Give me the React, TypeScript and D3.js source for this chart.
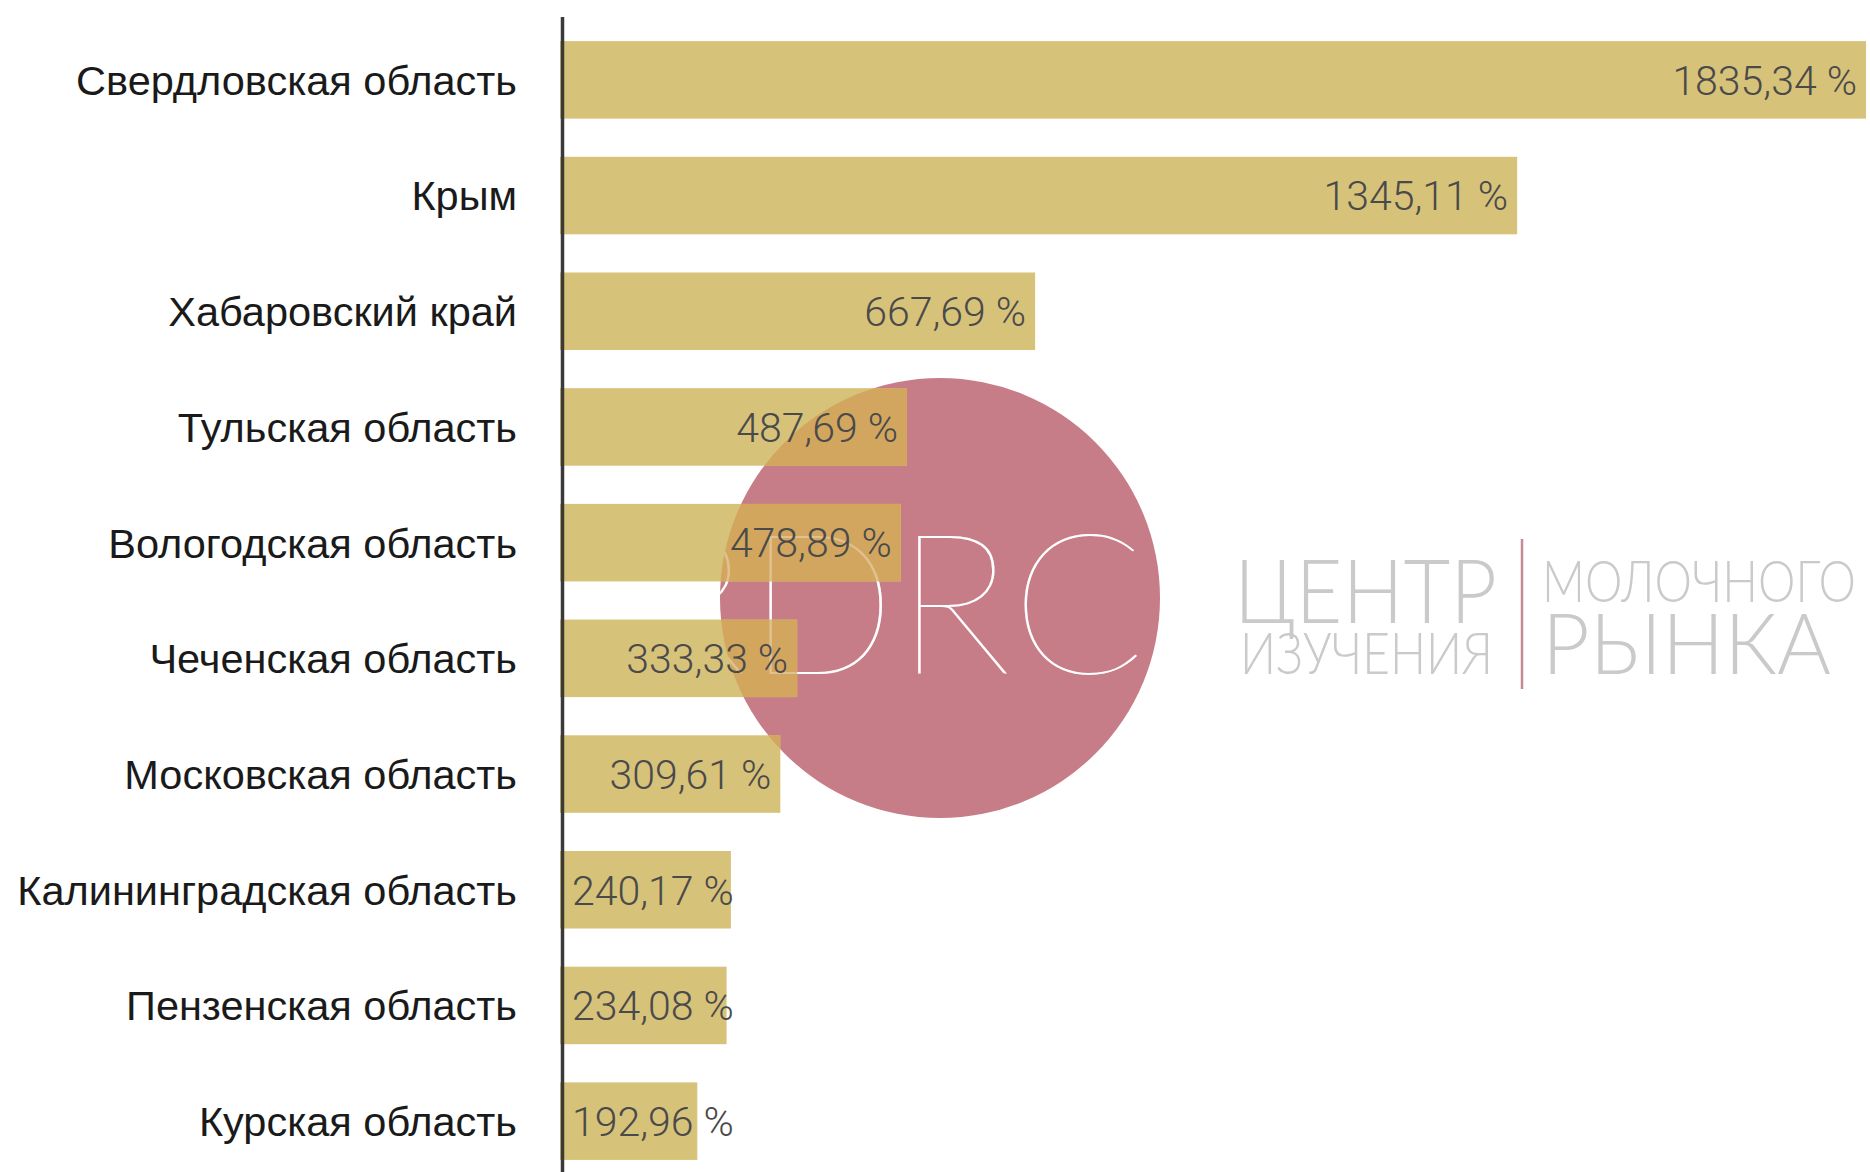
import React, { useEffect, useRef } from "react";
import * as d3 from "d3";

const categories = [
  "Свердловская область",
  "Крым",
  "Хабаровский край",
  "Тульская область",
  "Вологодская область",
  "Чеченская область",
  "Московская область",
  "Калининградская область",
  "Пензенская область",
  "Курская область",
];
const values = [1835.34, 1345.11, 667.69, 487.69, 478.89, 333.33, 309.61, 240.17, 234.08, 192.96];
const valueLabels = ["1835,34 %", "1345,11 %", "667,69 %", "487,69 %", "478,89 %", "333,33 %", "309,61 %", "240,17 %", "234,08 %", "192,96 %"];
const logoTitle = ["ЦЕНТР", "ИЗУЧЕНИЯ", "МОЛОЧНОГО", "РЫНКА"];
const logoMark = "RDRC";

const W = 1870;
const H = 1172;

export default function App() {
  const ref = useRef<SVGSVGElement>(null);

  useEffect(() => {
    const svg = d3.select(ref.current);
    svg.selectAll("*").remove();

    const y = d3.scaleBand<string>().domain(categories).range([22, 1179]).paddingInner(0.33).paddingOuter(0.165);
    const x = d3.scaleLinear().domain([0, 1835.34]).range([560, 1866]);

    const data = categories.map((c, i) => ({ c, v: values[i], l: valueLabels[i] }));

    const defs = svg.append("defs");
    const cx = 940, cy = 598, r = 220;
    defs.append("clipPath").attr("id", "circClip").append("circle").attr("cx", cx).attr("cy", cy).attr("r", r);

    svg.append("rect").attr("width", W).attr("height", H).attr("fill", "#ffffff");

    // logo circle
    svg.append("circle").attr("cx", cx).attr("cy", cy).attr("r", r).attr("fill", "#c77d87");

    const mark = (g: any, op: number) =>
      g.append("text")
        .attr("x", 888)
        .attr("y", 674)
        .attr("text-anchor", "middle")
        .attr("font-family", "Lato, Inter, sans-serif")
        .attr("font-weight", 100)
        .attr("font-size", 196)
        .attr("fill", "#ffffff")
        .attr("opacity", op)
        .attr("clip-path", "url(#circClip)")
        .text(logoMark);

    mark(svg, 1);

    // bars
    svg.append("g").selectAll("rect").data(data).join("rect")
      .attr("x", x(0))
      .attr("y", (d) => y(d.c)!)
      .attr("width", (d) => x(d.v) - x(0))
      .attr("height", y.bandwidth())
      .attr("fill", "#d7c27a");

    svg.append("g").attr("clip-path", "url(#circClip)").selectAll("rect").data(data).join("rect")
      .attr("x", x(0))
      .attr("y", (d) => y(d.c)!)
      .attr("width", (d) => x(d.v) - x(0))
      .attr("height", y.bandwidth())
      .attr("fill", "#d3a65f");

    mark(svg, 0.3);

    // axis line
    svg.append("line").attr("x1", 562.5).attr("x2", 562.5).attr("y1", 17).attr("y2", H)
      .attr("stroke", "#3a3a3a").attr("stroke-width", 3.5);

    // category labels
    svg.append("g").selectAll("text").data(data).join("text")
      .attr("x", 517)
      .attr("y", (d) => y(d.c)! + y.bandwidth() / 2)
      .attr("dy", "0.36em")
      .attr("text-anchor", "end")
      .attr("font-family", "'Liberation Sans', Arial, sans-serif")
      .attr("font-size", 41.5)
      .attr("fill", "#1a1a1a")
      .text((d) => d.c);

    // value labels
    const vl = svg.append("g").selectAll("text").data(data).join("text")
      .attr("y", (d) => y(d.c)! + y.bandwidth() / 2)
      .attr("dy", "0.36em")
      .attr("font-family", "Roboto, 'Liberation Sans', sans-serif")
      .attr("font-weight", 300)
      .attr("font-size", 41)
      .attr("fill", "#4a4a4a")
      .text((d) => d.l);
    vl.each(function (this: SVGTextElement, d: any) {
      const w = this.getComputedTextLength();
      const endX = x(d.v) - 9;
      const startX = Math.max(endX - w, 572);
      d3.select(this).attr("x", startX);
    });

    // logo text
    const logo = svg.append("g").attr("font-family", "Lato, Inter, sans-serif").attr("font-weight", 300).attr("fill", "#cacaca");
    logo.append("text").attr("x", 1234).attr("y", 623).attr("font-size", 88).attr("textLength", 263).attr("lengthAdjust", "spacingAndGlyphs").text(logoTitle[0]);
    logo.append("text").attr("x", 1240).attr("y", 674).attr("font-size", 58).attr("textLength", 253).attr("lengthAdjust", "spacingAndGlyphs").text(logoTitle[1]);
    logo.append("text").attr("x", 1542).attr("y", 602).attr("font-size", 58).attr("textLength", 314).attr("lengthAdjust", "spacingAndGlyphs").text(logoTitle[2]);
    logo.append("text").attr("x", 1542).attr("y", 674).attr("font-size", 84).attr("textLength", 289).attr("lengthAdjust", "spacingAndGlyphs").text(logoTitle[3]);
    svg.append("line").attr("x1", 1522).attr("x2", 1522).attr("y1", 539).attr("y2", 689).attr("stroke", "#c58a92").attr("stroke-width", 2.5);
  }, []);

  return (
    <svg ref={ref} width={W} height={H} style={{ position: "absolute", left: 0, top: 0, display: "block" }} />
  );
}
